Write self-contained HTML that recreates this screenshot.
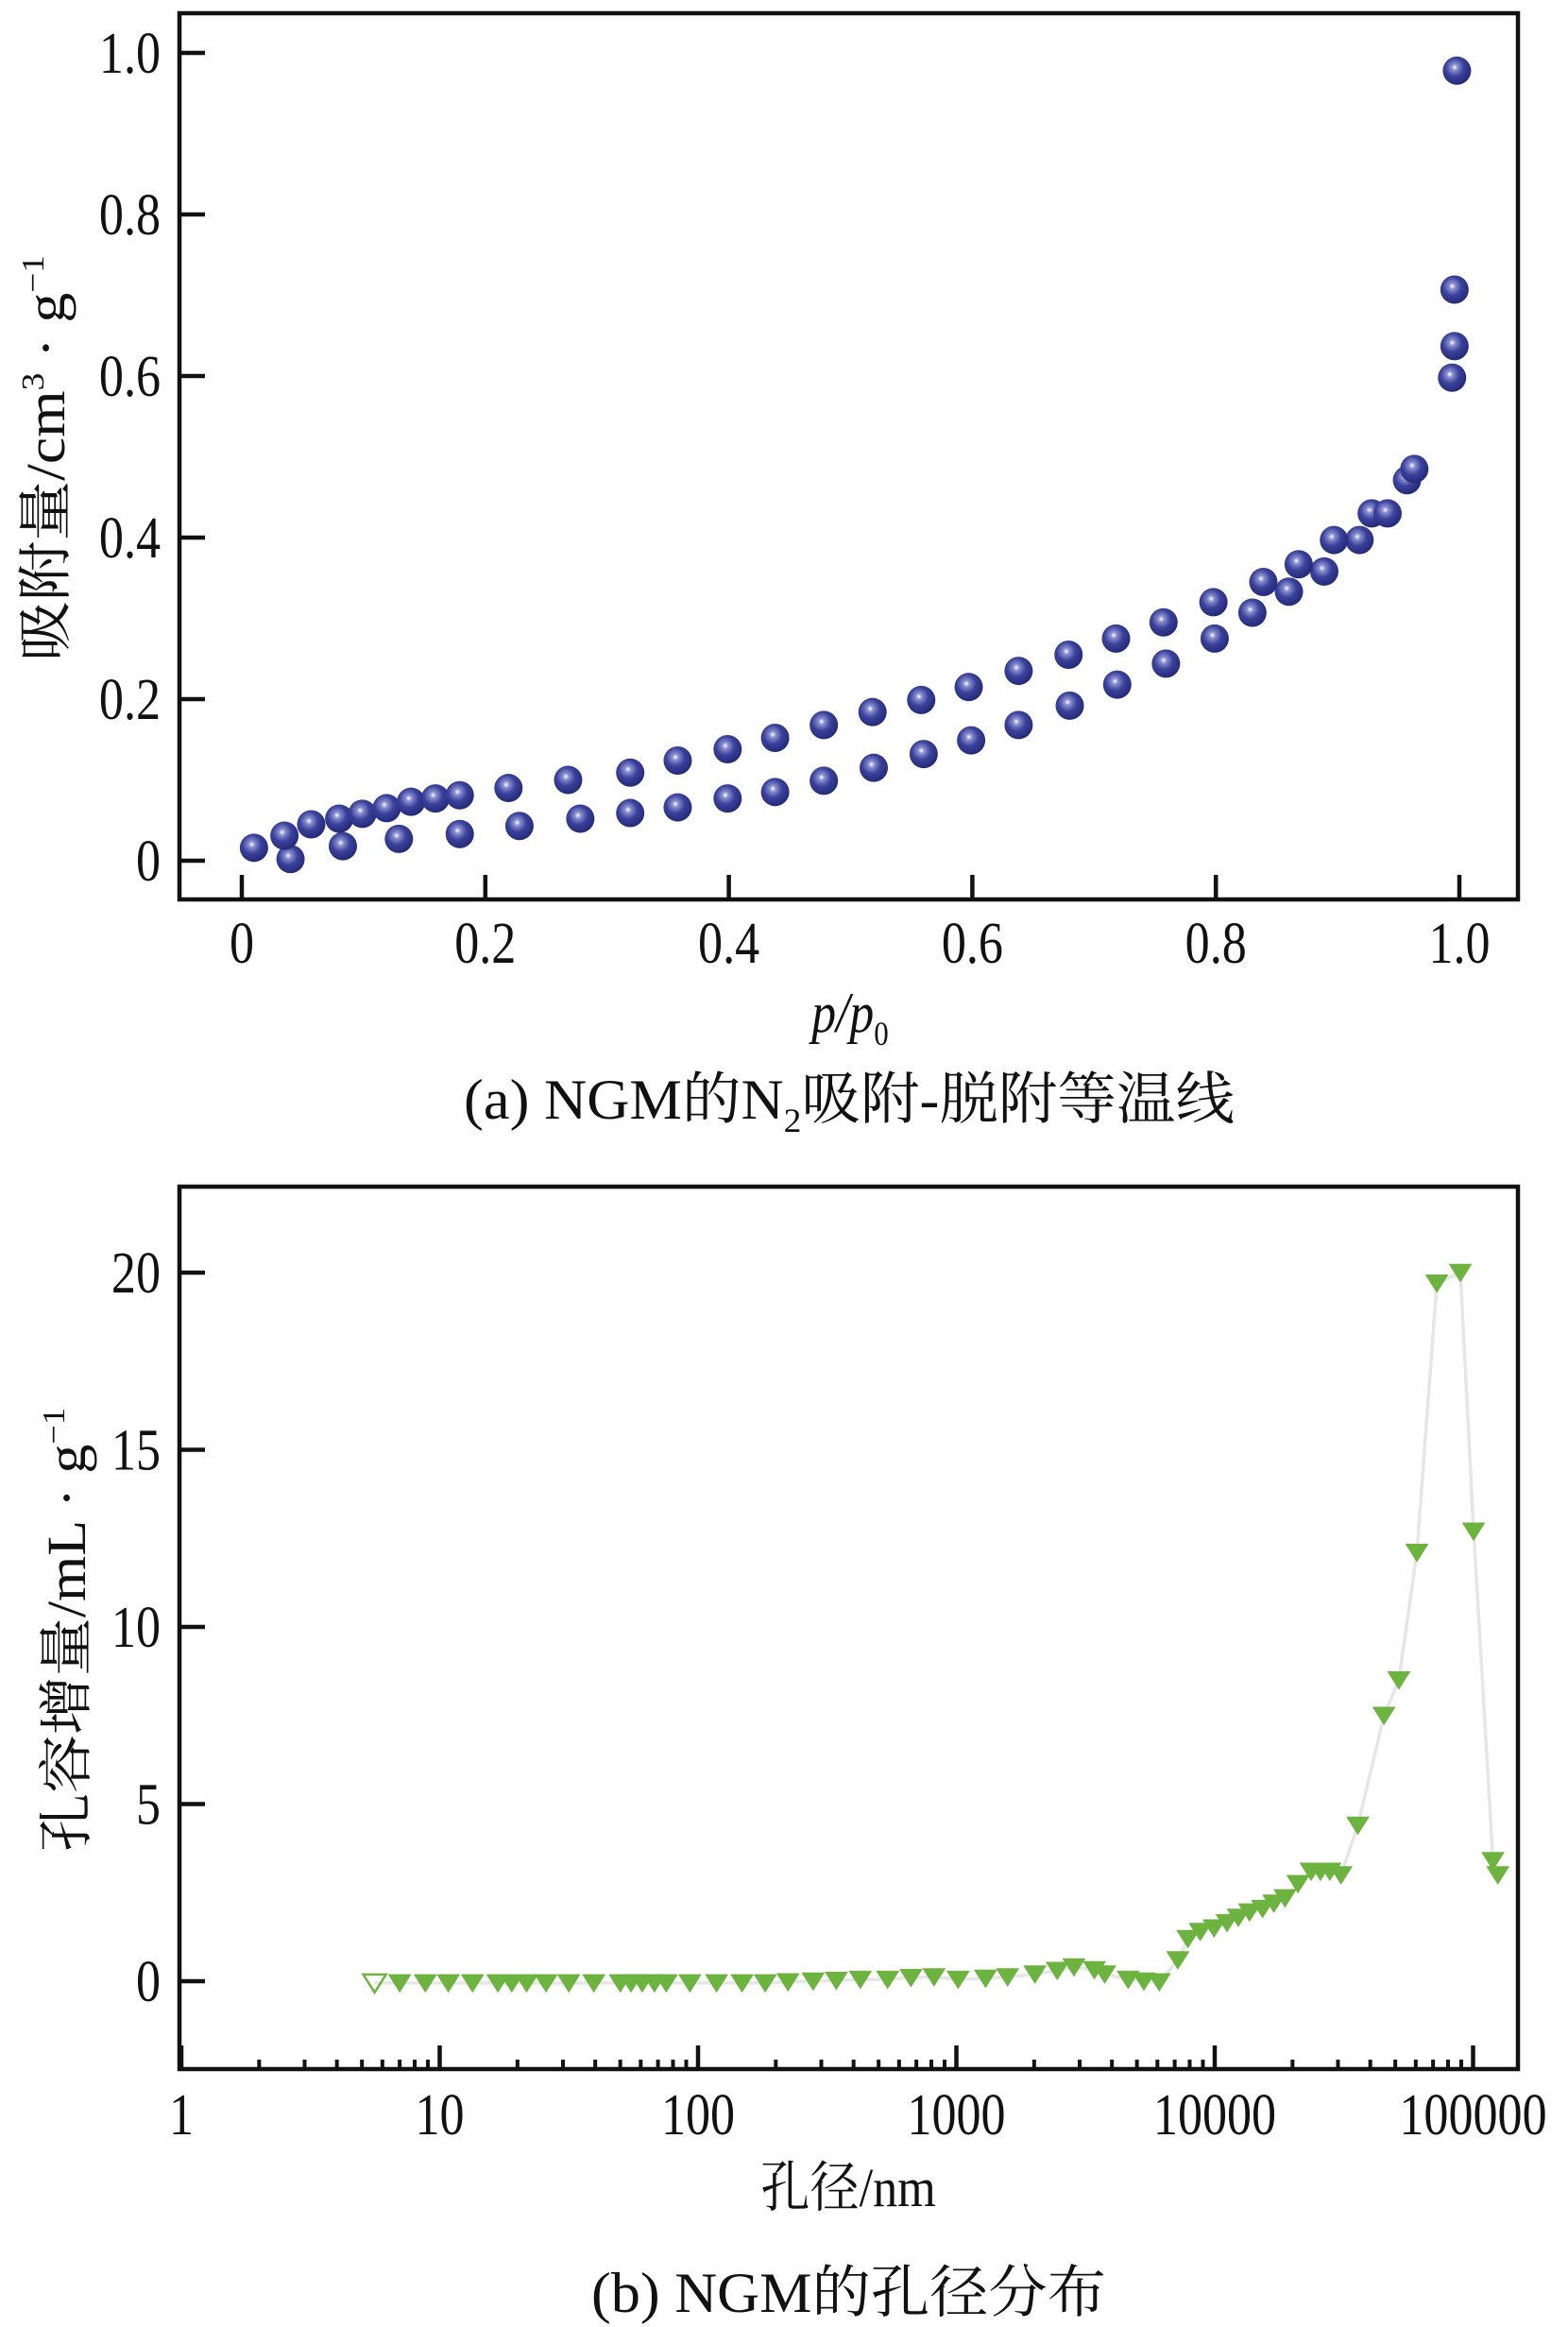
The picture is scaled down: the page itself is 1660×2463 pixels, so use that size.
<!DOCTYPE html>
<html><head><meta charset="utf-8"><style>
html,body{margin:0;padding:0;background:#fff;}
svg{display:block;}
text{font-family:"Liberation Serif","Noto Serif CJK SC",serif;fill:#111;}
</style></head>
<body>
<svg id="fig" width="1660" height="2463" viewBox="0 0 1660 2463" xmlns="http://www.w3.org/2000/svg">
<defs>
<radialGradient id="ball" cx="0.42" cy="0.38" r="0.6">
<stop offset="0" stop-color="#ffffff"/>
<stop offset="0.18" stop-color="#8a8fd0"/>
<stop offset="0.55" stop-color="#3a419a"/>
<stop offset="1" stop-color="#262c7a"/>
</radialGradient>
</defs>
<g id="chartA"></g>
<g id="chartB"></g>
</svg>
<script>
// ---- Chart A data ----
const aXTicks = [0, 0.2, 0.4, 0.6, 0.8, 1.0];
const aXTickLabels = ["0", "0.2", "0.4", "0.6", "0.8", "1.0"];
const aYTicks = [0, 0.2, 0.4, 0.6, 0.8, 1.0];
const aYTickLabels = ["0", "0.2", "0.4", "0.6", "0.8", "1.0"];
const desorpX = [0.01,0.035,0.057,0.08,0.099,0.119,0.139,0.159,0.179,0.219,0.268,0.319,0.358,0.399,0.438,0.478,0.518,0.558,0.597,0.638,0.679,0.718,0.757,0.798,0.839,0.868,0.897,0.928,0.941,0.963,0.996,0.998];
const desorpY = [0.016,0.031,0.045,0.052,0.058,0.065,0.073,0.077,0.081,0.090,0.100,0.109,0.124,0.138,0.152,0.168,0.184,0.199,0.215,0.235,0.255,0.275,0.295,0.320,0.345,0.367,0.397,0.430,0.430,0.485,0.707,0.978];
const adsorpX = [0.040,0.083,0.129,0.179,0.228,0.278,0.319,0.358,0.399,0.438,0.478,0.519,0.560,0.599,0.638,0.680,0.719,0.759,0.799,0.830,0.860,0.889,0.918,0.957,0.994,0.996];
const adsorpY = [0.002,0.018,0.027,0.033,0.043,0.052,0.059,0.066,0.077,0.085,0.099,0.115,0.132,0.149,0.168,0.192,0.218,0.244,0.275,0.307,0.333,0.358,0.397,0.471,0.598,0.637];

// ---- Chart B data ----
const bXTicks = [1, 10, 100, 1000, 10000, 100000];
const bXTickLabels = ["1", "10", "100", "1000", "10000", "100000"];
const bYTicks = [0, 5, 10, 15, 20];
const bYTickLabels = ["0", "5", "10", "15", "20"];
const poreX = [5.6,7.0,8.8,10.8,13.4,16.8,19.0,21.7,25.8,31.6,39.5,50,55,60.8,67.8,75.3,93,118,148,182,223,279,343,425,542,667,819,1016,1297,1578,2014,2457,2852,3422,3750,4624,5318,6099,7199,7875,8790,9940,11160,12340,13640,15310,16940,18710,21000,23600,25650,27900,30820,35800,45200,51600,60600,72400,89300,100500,119400,124700];
const poreY = [-0.05,-0.05,-0.05,-0.05,-0.05,-0.05,-0.05,-0.05,-0.05,-0.05,-0.05,-0.05,-0.05,-0.05,-0.05,-0.05,-0.05,-0.05,-0.05,-0.05,-0.02,0.0,0.02,0.05,0.05,0.1,0.12,0.05,0.08,0.12,0.2,0.3,0.4,0.32,0.2,0.05,0.0,-0.02,0.6,1.2,1.4,1.5,1.65,1.8,1.95,2.05,2.2,2.35,2.75,3.1,3.1,3.1,3.0,4.4,7.5,8.5,12.1,19.7,20.0,12.7,3.4,3.0];

const NS = "http://www.w3.org/2000/svg";
function mk(parent, tag, attrs, txt) {
  const e = document.createElementNS(NS, tag);
  for (const k in attrs) e.setAttribute(k, attrs[k]);
  if (txt !== undefined) e.textContent = txt;
  parent.appendChild(e);
  return e;
}
function label(parent, x, y, anchor, str) {
  return mk(parent, 'text', {x:0, y:0, 'font-size':62, 'text-anchor':anchor, transform:`translate(${x},${y}) scale(0.84,1)`}, str);
}

// ================= Chart A =================
(function(){
  const g = document.getElementById('chartA');
  const L = 190, R = 1607, T = 14, B = 952;
  const xS = v => 256 + v * 1289;
  const yS = v => 911 - v * 855;
  const box = mk(g, 'rect', {x:L, y:T, width:R-L, height:B-T, fill:'none', stroke:'#111', 'stroke-width':4.5});
  
  
  aXTicks.forEach((v,i) => {
    const t = mk(g, 'line', {x1:xS(v), x2:xS(v), y1:B, y2:B-26, stroke:'#111', 'stroke-width':4.5});
    
    
    const lb = label(g, xS(v), 1019, 'middle', aXTickLabels[i]);
    
    
  });
  aYTicks.forEach((v,i) => {
    const t = mk(g, 'line', {x1:L, x2:L+27, y1:yS(v), y2:yS(v), stroke:'#111', 'stroke-width':4.5});
    
    
    const lb = label(g, 170, yS(v)+21, 'end', aYTickLabels[i]);
    
    
  });
  function drawBalls(xs, ys, name) {
    xs.forEach((x,i) => {
      const c = mk(g, 'ellipse', {cx:xS(x), cy:yS(ys[i]), rx:15, ry:15, fill:'url(#ball)'});
      
      
    });
  }
  drawBalls(adsorpX, adsorpY, 'adsorption-point');
  drawBalls(desorpX, desorpY, 'desorption-point');
  const xt = mk(g, 'text', {x:0, y:0, 'font-size':60, 'text-anchor':'middle', 'font-style':'italic', transform:'translate(900,1092) scale(0.86,1)'});
  
  
  xt.innerHTML = 'p/p<tspan font-size="36" font-style="normal" dy="14">0</tspan>';
  const yt = mk(g, 'text', {x:0, y:0, 'font-size':58, 'text-anchor':'middle', transform:'translate(68,485) rotate(-90)', textLength:430, lengthAdjust:'spacingAndGlyphs'});
  
  
  yt.innerHTML = '吸附量/cm<tspan font-size="34" dy="-22">3</tspan><tspan dy="22"> · g</tspan><tspan font-size="34" dy="-22">−1</tspan>';
  const cap = mk(g, 'text', {x:491, y:1184, 'font-size':60, textLength:816, lengthAdjust:'spacingAndGlyphs'});
  
  
  cap.innerHTML = '(a) NGM的N<tspan font-size="36" dy="14">2</tspan><tspan dy="-14">吸附-脱附等温线</tspan>';
})();

// ================= Chart B =================
(function(){
  const g = document.getElementById('chartB');
  const L = 190, R = 1607, T = 1256, B = 2190;
  const dec = 273.5;
  const xS = v => 192 + Math.log10(v) * dec;
  const yS = v => 2097 - v * 37.5;
  const box = mk(g, 'rect', {x:L, y:T, width:R-L, height:B-T, fill:'none', stroke:'#111', 'stroke-width':4.5});
  
  
  for (let d = 0; d < 6; d++) {
    for (let m = 2; m <= 9; m++) {
      const v = Math.pow(10, d) * m;
      const px = xS(v);
      if (px >= R) continue;
      const t = mk(g, 'line', {x1:px, x2:px, y1:B, y2:B-10, stroke:'#111', 'stroke-width':4});
      
      
    }
  }
  bXTicks.forEach((v,i) => {
    const t = mk(g, 'line', {x1:xS(v), x2:xS(v), y1:B, y2:B-25, stroke:'#111', 'stroke-width':4.5});
    
    
    const lb = label(g, xS(v), 2259, 'middle', bXTickLabels[i]);
    
    
  });
  bYTicks.forEach((v,i) => {
    const t = mk(g, 'line', {x1:L, x2:L+27, y1:yS(v), y2:yS(v), stroke:'#111', 'stroke-width':4.5});
    
    
    const lb = label(g, 170, yS(v)+21, 'end', bYTickLabels[i]);
    
    
  });
  const pts = poreX.map((x,i) => xS(x).toFixed(1) + ',' + yS(poreY[i]).toFixed(1)).join(' ');
  const line = mk(g, 'polyline', {points:pts, fill:'none', stroke:'#e6e6e6', 'stroke-width':3.5});
  
  
  poreX.forEach((x,i) => {
    const cx = xS(x), cy = yS(poreY[i]);
    const p = mk(g, 'polygon', {points:`${cx-12},${cy-9} ${cx+12},${cy-9} ${cx},${cy+10}`, fill: i===0 ? 'none' : '#6cb33f', stroke:'#6cb33f', 'stroke-width': i===0 ? 2.5 : 0.5});
    
    
  });
  const xt = mk(g, 'text', {x:0, y:0, 'font-size':58, 'text-anchor':'middle', transform:'translate(898,2335) scale(0.9,1)'}, '孔径/nm');
  
  
  const yt = mk(g, 'text', {x:0, y:0, 'font-size':58, 'text-anchor':'middle', transform:'translate(90,1725) rotate(-90)', textLength:470, lengthAdjust:'spacingAndGlyphs'});
  
  
  yt.innerHTML = '孔容增量/mL · g<tspan font-size="34" dy="-22">−1</tspan>';
  const cap = mk(g, 'text', {x:626, y:2447, 'font-size':60, textLength:545, lengthAdjust:'spacingAndGlyphs'}, '(b) NGM的孔径分布');
  
  
})();
</script>
</body></html>
